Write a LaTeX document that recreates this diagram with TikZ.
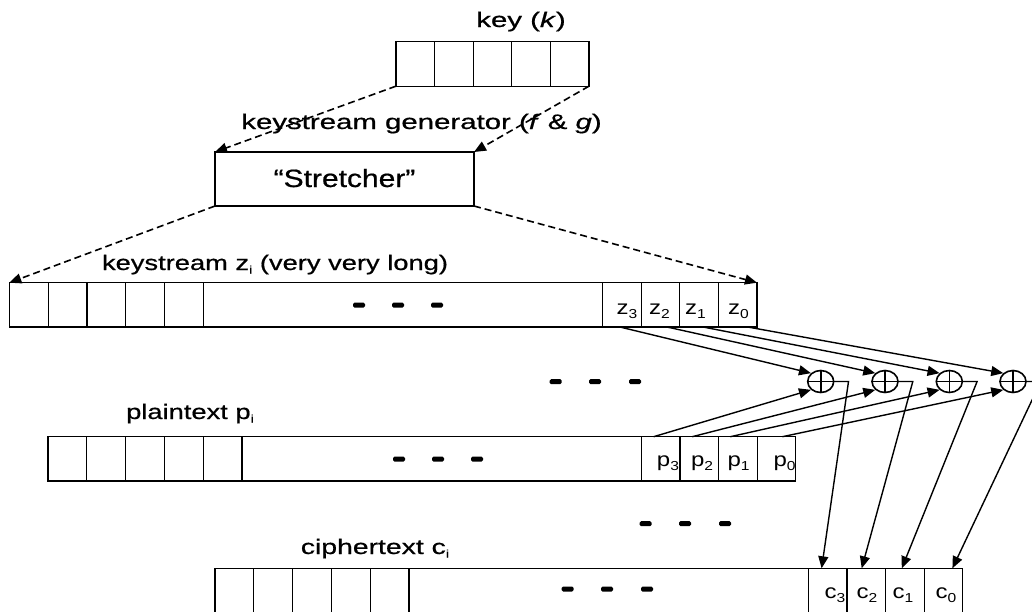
\documentclass[tikz,border=0pt]{standalone}
\usepackage{fontspec}
\setmainfont{Liberation Sans}
\newfontfamily\labelfont{Liberation Sans}[FakeBold=0.6]
\usetikzlibrary{arrows.meta,shapes.geometric,calc}
% small lowered index used in the labels
\newcommand\lowidx[1]{\raisebox{-3.5pt}{\fontsize{11}{11}\selectfont #1}}
\newcommand\cellidx[1]{\raisebox{-4pt}{\fontsize{13}{13}\selectfont #1}}
\begin{document}
\begin{tikzpicture}[x=1pt,y=-1pt,
  cell/.style={draw, line width=1.2pt, inner sep=0pt, outer sep=0pt,
               minimum height=44.3pt, minimum width=38.8pt},
  title/.style={font=\labelfont\fontsize{21}{25}\selectfont, xscale=#1, inner sep=0pt, anchor=base},
  title/.default=1.4,
  idx/.style={font=\fontsize{20}{22}\selectfont, xscale=1.2, inner sep=0pt, anchor=base},
  arr/.style={line width=1.4pt, -{Triangle[length=12pt,width=10pt]}},
  darr/.style={arr, line width=1.6pt, dash pattern=on 7pt off 4pt},
  xor/.style={ellipse, draw, line width=1.6pt, minimum width=26pt, minimum height=22pt, inner sep=0pt},
  gapmark/.style={fill=black, rounded corners=1.5pt}]
\useasboundingbox (0,0) rectangle (1032,611);
\clip (0,0) rectangle (1032,611);

% key register
\node[title] (keylbl) at (521,27) {key (\textit{k})};
\foreach \i in {1,...,5}
  \node[cell, minimum width=38.6pt] (k\i) at ({396+38.6*\i-19.3},64) {};

% keystream generator
\node[title] (genlbl) at (421.5,129) {keystream generator (\textit{f} \& \textit{g})};
\node[cell, minimum width=259pt, minimum height=54pt] (str) at (344.5,179) {};
\node[title=1.2, font=\labelfont\fontsize{25}{29}\selectfont] (strlbl) at (344.5,187) {“Stretcher”};

% the three tapes: keystream, plaintext, ciphertext
\foreach \row/\ox/\cy in {z/9.3/304.85, p/48/458.85, c/215/590.45} {
  \foreach \i in {1,...,5}
    \node[cell] (\row-l\i) at ({\ox+38.8*\i-19.4},\cy) {};
  \node[cell, minimum width=399pt] (\row-mid) at ({\ox+393.9},\cy) {};
  \foreach \k in {0,...,3}
    \node[cell, minimum width=38.6pt] (\row\k) at ({\ox+747.7-38.6*\k-19.3},\cy) {};
}

\node[title=1.3] (zlbl) at (275,270) {keystream z\lowidx{i} (very very long)};
\node[title=1.3] (plbl) at (190,419) {plaintext p\lowidx{i}};
\node[title=1.35] (clbl) at (375,554) {ciphertext c\lowidx{i}};

% indices in the tape cells
\foreach \k/\zx/\px/\cx in {3/627/668/835, 2/659.5/702/867, 1/695.5/738.5/903, 0/738.5/784.5/946} {
  \node[idx] (zt\k) at (\zx,314) {z\cellidx{\k}};
  \node[idx] (pt\k) at (\px,466) {p\cellidx{\k}};
  \node[idx] (ct\k) at (\cx,598.3) {c\cellidx{\k}};
}

% ellipsis marks
\foreach \mx/\my in {359/305, 398/305, 437/305,
                     399/459, 438/459, 477/459,
                     567.7/589, 607/589, 647/589,
                     555.7/381.7, 595/381.7, 635/381.7,
                     645.7/523.7, 685/523.7, 725/523.7}
  \fill[gapmark] (\mx-6,\my-2.5) rectangle (\mx+6,\my+2.5);

% dashed expansion arrows
\draw[darr] (k1.south west) -- (str.north west);
\draw[darr] (k5.south east) -- (str.north east);
\draw[darr] (str.south west) -- (z-l1.north west);
\draw[darr] (str.south east) -- (z0.north east);

% XOR gates
\foreach \j/\gx in {1/820.7, 2/885, 3/949.3, 4/1013} {
  \node[xor] (x\j) at (\gx,381.5) {};
  \draw[line width=1.6pt] (x\j.north) -- (x\j.south) (x\j.west) -- (x\j.east);
}

% keystream bits into the gates
\draw[arr] ([xshift=-2pt]z3.south) -- (x1.north west);
\draw[arr] ([xshift=6.5pt]z2.south) -- (x2.north west);
\draw[arr] ([xshift=4pt]z1.south) -- (x3.north west);
\draw[arr] ([xshift=10pt]z0.south) -- (x4.north west);

% plaintext bits into the gates
\draw[arr] ([xshift=-7pt]p3.north) -- (x1.south west);
\draw[arr] ([xshift=-7pt]p2.north) -- (x2.south west);
\draw[arr] ([xshift=-7.5pt]p1.north) -- (x3.south west);
\draw[arr] ([xshift=6pt]p0.north) -- (x4.south west);

% gate outputs down to the ciphertext
\draw[arr] (x1.east) -- ++(14,0) -- ([xshift=-6pt]c3.north);
\draw[arr] (x2.east) -- ++(14,0) -- ([xshift=-4.5pt]c2.north);
\draw[arr] (x3.east) -- ++(14,0) -- ([xshift=-3pt]c1.north);
\draw[arr] (x4.east) -- ++(14,0) -- ([xshift=9pt]c0.north);
\end{tikzpicture}
\end{document}
